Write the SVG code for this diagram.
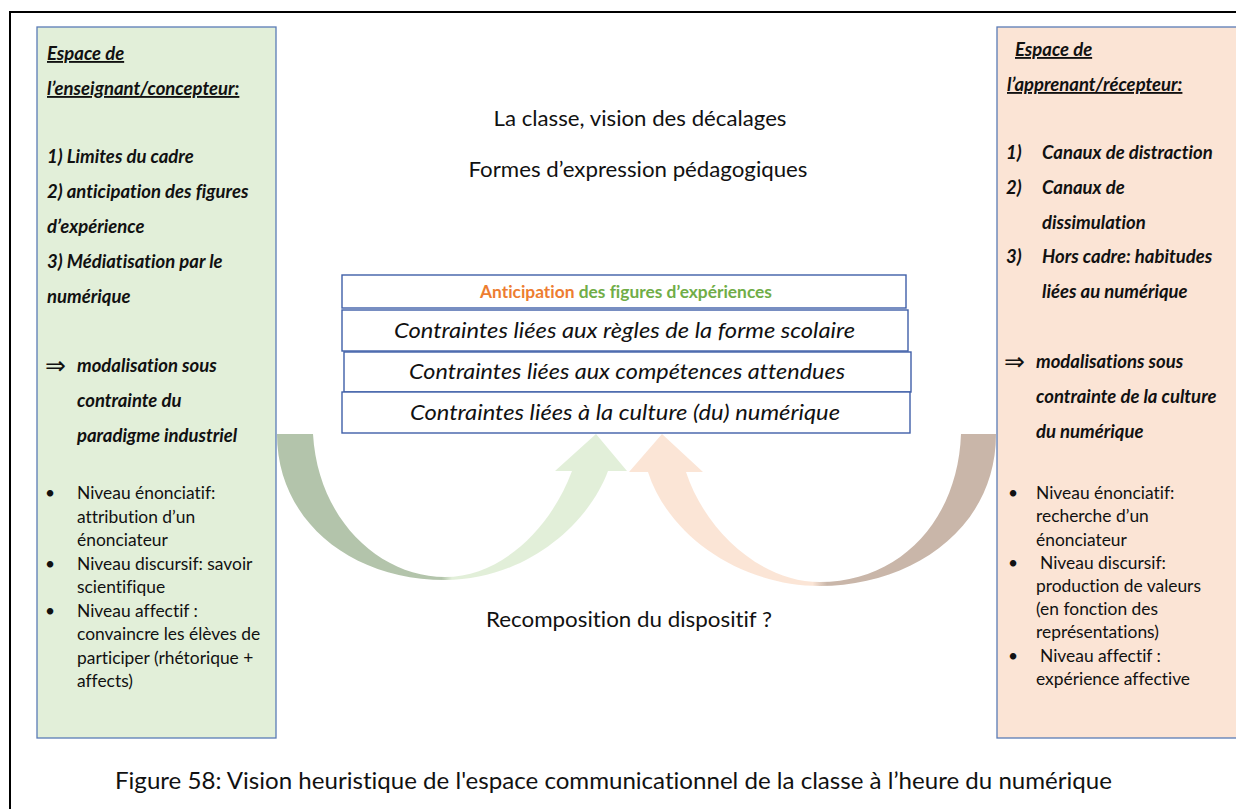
<svg xmlns="http://www.w3.org/2000/svg" width="1236" height="809" viewBox="0 0 1236 809">
<style>
text{font-family:Lato,"Liberation Sans","DejaVu Sans",sans-serif;fill:#111;font-variant-ligatures:none}
.hb{font-size:18.5px;font-weight:bold;font-style:italic}
.u{text-decoration:underline}
.bl{font-size:17.4px}
.ar{font-family:"DejaVu Sans",sans-serif;font-size:25px}
.t{font-size:22px}
.ci{font-size:22px;font-style:italic}
.box{stroke:#5a7bb6;stroke-width:1.3}
.cb{fill:#fff;stroke:#3f5fa8;stroke-width:1.4}
</style>
<defs>
<linearGradient id="gL" gradientUnits="userSpaceOnUse" x1="277" y1="0" x2="627" y2="0">
<stop offset="0" stop-color="#b3c4ab"/><stop offset="0.47" stop-color="#b3c4ab"/><stop offset="0.5" stop-color="#e2efd9"/><stop offset="1" stop-color="#e2efd9"/>
</linearGradient>
<linearGradient id="gR" gradientUnits="userSpaceOnUse" x1="629" y1="0" x2="996" y2="0">
<stop offset="0" stop-color="#fbe5d6"/><stop offset="0.5" stop-color="#fbe5d6"/><stop offset="0.54" stop-color="#c9b6a9"/><stop offset="1" stop-color="#c9b6a9"/>
</linearGradient>
</defs>
<rect width="1236" height="809" fill="#fff"/>
<path d="M10,809 V12 H1236" fill="none" stroke="#000" stroke-width="2"/>

<g id="connectors">
<path id="arrow-left" d="M277,434 C277,520 350,580 445,580 C525,580 588,525 608,471 L627,471 L596,434 L555,471 L572,471 C550,530 500,577 445,577 C380,577 318,520 313,434 Z" fill="url(#gL)"/>
<path id="arrow-right" d="M996,434 C996,530 910,586 820,586 C740,586 668,535 648,472 L629,472 L662,434 L703,472 L686,472 C705,530 760,582 820,582 C900,582 958,520 961,434 Z" fill="url(#gR)"/>
</g>

<g id="left-box">
<rect class="box" x="37" y="27" width="239" height="711" fill="#e2efd9"/>
<text class="hb u" x="47" y="60">Espace de</text>
<text class="hb u" x="47" y="95">l’enseignant/concepteur:</text>
<text class="hb" x="47" y="163">1) Limites du cadre</text>
<text class="hb" x="47" y="198">2) anticipation des figures</text>
<text class="hb" x="47" y="233">d’expérience</text>
<text class="hb" x="47" y="268">3) Médiatisation par le</text>
<text class="hb" x="47" y="303">numérique</text>
<text class="ar" x="45" y="374">⇒</text>
<text class="hb" x="77" y="372">modalisation sous</text>
<text class="hb" x="77" y="407">contrainte du</text>
<text class="hb" x="77" y="442">paradigme industriel</text>
<g class="bl">
<text x="45" y="499">•</text><text x="77" y="499">Niveau énonciatif:</text>
<text x="77" y="522.5">attribution d’un</text>
<text x="77" y="546">énonciateur</text>
<text x="45" y="569.5">•</text><text x="77" y="569.5">Niveau discursif: savoir</text>
<text x="77" y="593">scientifique</text>
<text x="45" y="616.5">•</text><text x="77" y="616.5">Niveau affectif :</text>
<text x="77" y="640">convaincre les élèves de</text>
<text x="77" y="663.5">participer (rhétorique +</text>
<text x="77" y="687">affects)</text>
</g>
</g>

<g id="right-box">
<rect class="box" x="997" y="27" width="245" height="711" fill="#fbe4d5"/>
<text class="hb u" x="1015" y="56">Espace de</text>
<text class="hb u" x="1007" y="91">l’apprenant/récepteur:</text>
<text class="hb" x="1006" y="159">1)</text><text class="hb" x="1042" y="159">Canaux de distraction</text>
<text class="hb" x="1006" y="194">2)</text><text class="hb" x="1042" y="194">Canaux de</text>
<text class="hb" x="1042" y="229">dissimulation</text>
<text class="hb" x="1006" y="263">3)</text><text class="hb" x="1042" y="263">Hors cadre: habitudes</text>
<text class="hb" x="1042" y="298">liées au numérique</text>
<text class="ar" x="1004" y="370">⇒</text>
<text class="hb" x="1036" y="368">modalisations sous</text>
<text class="hb" x="1036" y="403">contrainte de la culture</text>
<text class="hb" x="1036" y="438">du numérique</text>
<g class="bl">
<text x="1008" y="499">•</text><text x="1036" y="499">Niveau énonciatif:</text>
<text x="1036" y="522">recherche d’un</text>
<text x="1036" y="545.5">énonciateur</text>
<text x="1008" y="569">•</text><text x="1040" y="569">Niveau discursif:</text>
<text x="1036" y="592">production de valeurs</text>
<text x="1036" y="615">(en fonction des</text>
<text x="1036" y="638">représentations)</text>
<text x="1008" y="662">•</text><text x="1040" y="662">Niveau affectif :</text>
<text x="1036" y="685">expérience affective</text>
</g>
</g>

<g id="titles">
<text class="t" x="640" y="126" text-anchor="middle" textLength="293" lengthAdjust="spacingAndGlyphs">La classe, vision des décalages</text>
<text class="t" x="638" y="177" text-anchor="middle" textLength="339" lengthAdjust="spacingAndGlyphs">Formes d’expression pédagogiques</text>
</g>

<g id="center-stack">
<rect class="cb" x="342" y="275" width="564" height="33"/>
<text x="626" y="298" text-anchor="middle" style="font-size:16.5px;font-weight:bold" textLength="292" lengthAdjust="spacingAndGlyphs"><tspan style="fill:#ed7d31">Anticipation</tspan> <tspan style="fill:#70ad47">des figures d’expériences</tspan></text>
<rect class="cb" x="342" y="310" width="566" height="41"/>
<text class="ci" x="624.5" y="338" text-anchor="middle" textLength="461" lengthAdjust="spacingAndGlyphs">Contraintes liées aux règles de la forme scolaire</text>
<rect class="cb" x="344" y="352" width="567" height="40"/>
<text class="ci" x="627" y="379" text-anchor="middle" textLength="436" lengthAdjust="spacingAndGlyphs">Contraintes liées aux compétences attendues</text>
<rect class="cb" x="342" y="392" width="568" height="41"/>
<text class="ci" x="625" y="420" text-anchor="middle" textLength="430" lengthAdjust="spacingAndGlyphs">Contraintes liées à la culture (du) numérique</text>
</g>

<g id="bottom-label">
<text class="t" x="629" y="627" text-anchor="middle" textLength="286" lengthAdjust="spacingAndGlyphs">Recomposition du dispositif ?</text>
</g>

<g id="caption">
<text class="t" x="613.5" y="789" text-anchor="middle" style="font-size:23.5px" textLength="997" lengthAdjust="spacingAndGlyphs">Figure 58: Vision heuristique de l'espace communicationnel de la classe à l’heure du numérique</text>
</g>
</svg>
